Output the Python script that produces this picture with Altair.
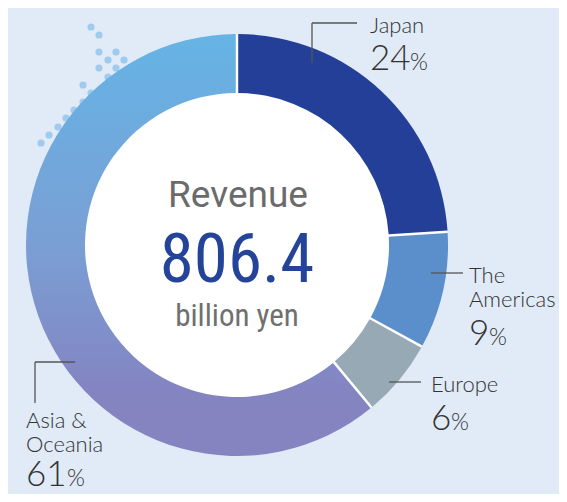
import math
import altair as alt
import pandas as pd

# ---------------- data ----------------
regions = ["Japan", "The Americas", "Europe", "Asia & Oceania"]
shares = [24, 9, 6, 61]
revenue_total = 806.4
center_title = "Revenue"
center_unit = "billion yen"

# ---------------- styles / layout ----------------
OFF = 8  # page margin
W, H = 567 - 2 * OFF, 502 - 2 * OFF
CX, CY = 237 - OFF, 245 - OFF
R_OUT, R_IN = 211, 152
BG = "#e0ebf7"
solid_colors = ["#233f97", "#5b8fcb", "#97a9b4", "#8584c1"]
asia_gradient = {
    "gradient": "linear",
    "x1": 0, "y1": 0, "x2": 0, "y2": 1,
    "stops": [
        {"offset": 0, "color": "#65b4e5"},
        {"offset": 0.5, "color": "#7a9fd5"},
        {"offset": 0.85, "color": "#8484c1"},
        {"offset": 1, "color": "#8584c1"},
    ],
}
LABEL_FONT = "Lato"
TEXT_COLOR = "#333333"

# label anchor layout (page pixels): name lines, number baseline, percent x
label_layout = {
    "Japan": {"x": 370, "lines": [("Japan", 33)], "num_y": 70, "pct_x": 410},
    "The Americas": {"x": 469, "lines": [("The", 283), ("Americas", 307)], "num_y": 345, "pct_x": 489},
    "Europe": {"x": 431, "lines": [("Europe", 392)], "num_y": 430, "pct_x": 451},
    "Asia & Oceania": {"x": 26, "lines": [("Asia &", 428), ("Oceania", 452)], "num_y": 486, "pct_x": 67},
}
leader_segments = [
    (312, 23, 357, 23), (312, 23, 312, 63),
    (431, 273, 463, 273),
    (389, 382, 421, 382),
    (35, 362, 75, 362), (35, 362, 35, 403),
]
# decorative dot lattice (page pixels)
dot_xy = [
    (91, 27), (99, 35), (99, 52), (116, 52), (108, 60), (124, 60),
    (99, 68), (116, 68), (108, 77), (83, 85), (91, 93), (83, 102),
    (74, 110), (66, 118), (58, 127), (49, 135), (41, 143),
]

# ---------------- tables ----------------
df = pd.DataFrame({"region": regions, "share": shares})
df["end"] = df["share"].cumsum()
df["start"] = df["end"] - df["share"]

name_rows, num_rows, pct_rows = [], [], []
for reg, sh in zip(regions, shares):
    lay = label_layout[reg]
    for txt, yy in lay["lines"]:
        name_rows.append({"x": lay["x"] - OFF, "y": yy - OFF, "t": txt})
    num_rows.append({"x": lay["x"] - OFF, "y": lay["num_y"] - OFF, "t": str(sh)})
    pct_rows.append({"x": lay["pct_x"] - OFF, "y": lay["num_y"] - OFF, "t": "%"})
names_df = pd.DataFrame(name_rows)
nums_df = pd.DataFrame(num_rows)
pcts_df = pd.DataFrame(pct_rows)
lines_df = pd.DataFrame(
    [{"x": a - OFF, "y": b - OFF, "x2": c - OFF, "y2": d - OFF} for a, b, c, d in leader_segments]
)
dots_df = pd.DataFrame([{"x": a - OFF, "y": b - OFF} for a, b in dot_xy])

px = dict(scale=None, axis=None)

dots = alt.Chart(dots_df).mark_circle(size=52, color="#9fcbee", opacity=1).encode(
    x=alt.X("x:Q", **px), y=alt.Y("y:Q", **px)
)

# white disc underneath: forms the hole and the white separators between slices
disc = alt.Chart(pd.DataFrame({"k": [0]})).mark_arc(
    theta=0, theta2=2 * math.pi, radius=R_OUT - 0.6, color="white"
).encode(x=alt.value(CX), y=alt.value(CY))

arcs = alt.Chart(df).mark_arc(radius=R_OUT, radius2=R_IN, padAngle=0.0095).encode(
    theta=alt.Theta("start:Q", scale=alt.Scale(domain=[0, 100], range=[0, 2 * math.pi])),
    theta2="end:Q",
    color=alt.condition(
        alt.datum.region == "Asia & Oceania",
        alt.value(asia_gradient),
        alt.Color("region:N", scale=alt.Scale(domain=regions, range=solid_colors), legend=None),
    ),
    x=alt.value(CX),
    y=alt.value(CY),
)

leaders = alt.Chart(lines_df).mark_rule(color="#555555", strokeWidth=1.3).encode(
    x=alt.X("x:Q", **px), y=alt.Y("y:Q", **px), x2="x2:Q", y2="y2:Q"
)

names = alt.Chart(names_df).mark_text(
    align="left", baseline="alphabetic", font=LABEL_FONT, fontSize=22, color=TEXT_COLOR, fontWeight=300
).encode(x=alt.X("x:Q", **px), y=alt.Y("y:Q", **px), text="t:N")

nums = alt.Chart(nums_df).mark_text(
    align="left", baseline="alphabetic", font=LABEL_FONT, fontSize=35, color=TEXT_COLOR, fontWeight=300
).encode(x=alt.X("x:Q", **px), y=alt.Y("y:Q", **px), text="t:N")

pcts = alt.Chart(pcts_df).mark_text(
    align="left", baseline="alphabetic", font=LABEL_FONT, fontSize=23, color=TEXT_COLOR, fontWeight=300
).encode(x=alt.X("x:Q", **px), y=alt.Y("y:Q", **px), text="t:N")

c_title = alt.Chart(pd.DataFrame({"t": [center_title]})).mark_text(
    align="center", baseline="alphabetic", font="Roboto", fontSize=37, fontWeight=400, color="#6b6b6b"
).encode(x=alt.value(238 - OFF), y=alt.value(207 - OFF), text="t:N")

c_value = alt.Chart(pd.DataFrame({"t": [f"{revenue_total:.1f}"]})).mark_text(
    align="center", baseline="alphabetic", font="Roboto Condensed, Roboto", fontSize=69, color="#24449a"
).encode(x=alt.value(237 - OFF), y=alt.value(282 - OFF), text="t:N")

c_unit = alt.Chart(pd.DataFrame({"t": [center_unit]})).mark_text(
    align="center", baseline="alphabetic", font="Roboto Condensed, Roboto", fontSize=31, fontWeight=400, color="#707070"
).encode(x=alt.value(237 - OFF), y=alt.value(326 - OFF), text="t:N")

chart = alt.layer(dots, disc, arcs, leaders, names, nums, pcts, c_title, c_value, c_unit).properties(
    width=W, height=H, autosize=alt.AutoSizeParams(type="none"), padding=0, background=BG
).configure_view(stroke=None)

chart.save("out.html", embed_options={"renderer": "svg", "actions": False})
